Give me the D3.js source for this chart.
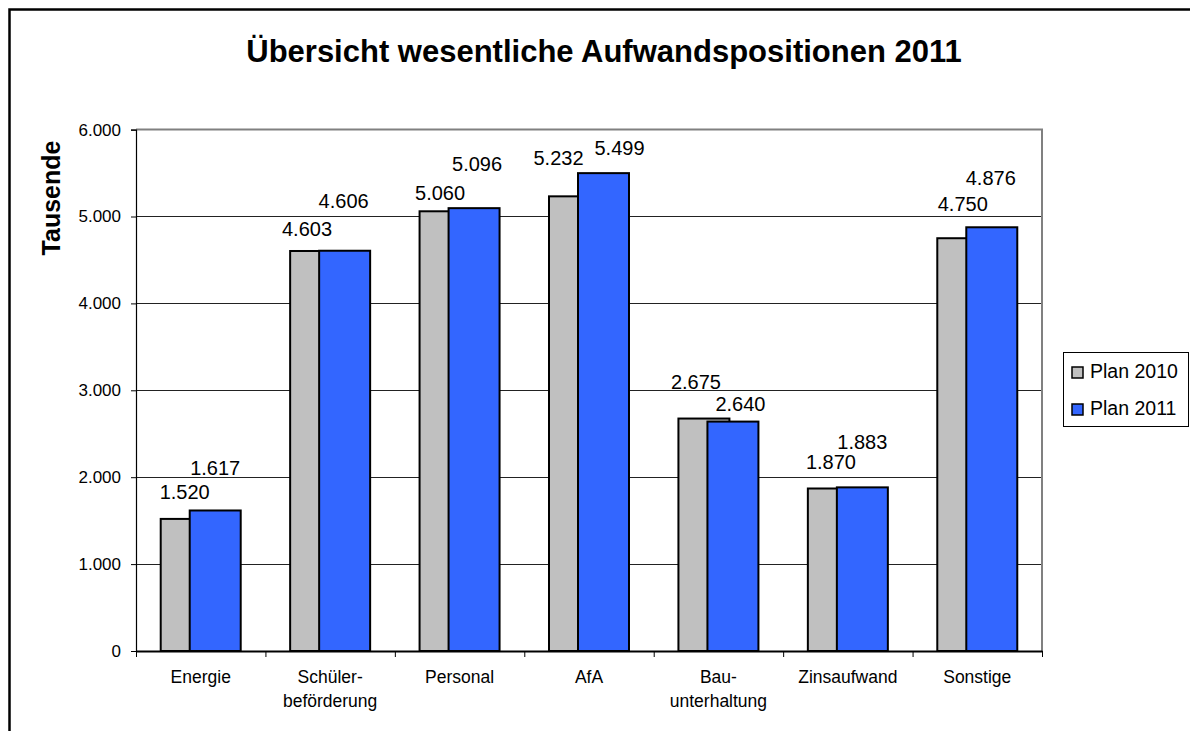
<!DOCTYPE html>
<html>
<head>
<meta charset="utf-8">
<script src="https://cdn.jsdelivr.net/npm/d3@7"></script>
<style>
  html, body { margin: 0; padding: 0; background: #fff; overflow: hidden; }
  svg { display: block; font-family: "Liberation Sans", Arial, sans-serif; }
</style>
</head>
<body>
<script>
// ---- data ----
const categories = ["Energie", "Schüler-\nbeförderung", "Personal", "AfA", "Bau-\nunterhaltung", "Zinsaufwand", "Sonstige"];
const seriesNames = ["Plan 2010", "Plan 2011"];
const plan2010 = [1520, 4603, 5060, 5232, 2675, 1870, 4750];
const plan2011 = [1617, 4606, 5096, 5499, 2640, 1883, 4876];
const yTickValues = [0, 1000, 2000, 3000, 4000, 5000, 6000];
const titleText = "Übersicht wesentliche Aufwandspositionen 2011";
const yAxisTitle = "Tausende";

// ---- layout (manual label placement as in the original) ----
const labelLift = [[20, 15, 11, 31, 30, 19.5, 27], [35, 43, 37.5, 18, 11, 38, 42]];
const labelShift = [[-1.5, -8.6, -5, -16, -8, -2.4, 0], [0, -1, 3, 16, 7.5, 0, -1]];
const colors = ["#C0C0C0", "#3366FF"];

const W = 1190, H = 731;
const plot = { left: 136, right: 1042, top: 129.6, bottom: 651 };

const de = d3.formatLocale({ decimal: ",", thousands: ".", grouping: [3], currency: ["", " €"] });
const fmt = de.format(",");

const svg = d3.select("body").append("svg").attr("width", W).attr("height", H);
svg.append("rect").attr("width", W).attr("height", H).attr("fill", "#fff");

// outer frame (clipped at right / bottom like the original)
svg.append("rect").attr("x", 9.5).attr("y", 9.5).attr("width", 1300).attr("height", 900)
  .attr("fill", "none").attr("stroke", "#000").attr("stroke-width", 2.5);

const x = d3.scaleBand().domain(categories).range([plot.left, plot.right]).paddingInner(0).paddingOuter(0);
const xs = d3.scaleBand().domain(seriesNames).range([-40, 18]);
const barW = x.bandwidth() * 0.394;
const y = d3.scaleLinear().domain([0, 6000]).range([plot.bottom, plot.top]);

// gridlines
svg.append("g").selectAll("line").data(yTickValues.filter(v => v > 0 && v < 6000)).join("line")
  .attr("x1", plot.left).attr("x2", plot.right)
  .attr("y1", d => Math.round(y(d)) + 0.5).attr("y2", d => Math.round(y(d)) + 0.5)
  .attr("stroke", "#222").attr("stroke-width", 1);

// plot area border (top & right, grey)
svg.append("path")
  .attr("d", `M${plot.left},${plot.top} H${plot.right} V${plot.bottom}`)
  .attr("fill", "none").attr("stroke", "#808080").attr("stroke-width", 2);

// bars
const series = [plan2010, plan2011];
series.forEach((vals, si) => {
  svg.append("g").selectAll("rect").data(vals).join("rect")
    .attr("x", (d, i) => x(categories[i]) + x.bandwidth() / 2 + xs(seriesNames[si]))
    .attr("y", d => y(d))
    .attr("width", barW)
    .attr("height", d => y(0) - y(d))
    .attr("fill", colors[si])
    .attr("stroke", "#000").attr("stroke-width", 2);
});

// y axis
const yAxis = svg.append("g").attr("transform", `translate(${plot.left},0)`)
  .call(d3.axisLeft(y).tickValues(yTickValues).tickFormat(fmt).tickSize(5).tickPadding(10));
yAxis.select(".domain").attr("stroke", "#000").attr("stroke-width", 1.2);
yAxis.selectAll(".tick line").attr("stroke", "#000");
yAxis.selectAll("text").attr("font-size", 17).attr("font-family", "Liberation Sans, Arial, sans-serif").attr("fill", "#000");

// x axis (ticks on category boundaries)
const xb = d3.scaleLinear().domain([0, categories.length]).range([plot.left, plot.right]);
const xAxis = svg.append("g").attr("transform", `translate(0,${plot.bottom})`)
  .call(d3.axisBottom(xb).tickValues(d3.range(categories.length + 1)).tickFormat("").tickSize(6).tickSizeOuter(0));
xAxis.select(".domain").attr("stroke", "#000").attr("stroke-width", 2);
xAxis.selectAll(".tick line").attr("stroke", "#000");

// category labels
const catG = svg.append("g");
categories.forEach(c => {
  const t = catG.append("text")
    .attr("x", x(c) + x.bandwidth() / 2)
    .attr("y", 683)
    .attr("text-anchor", "middle")
    .attr("font-size", 17.5)
    .attr("fill", "#000");
  c.split("\n").forEach((line, li) => {
    t.append("tspan").attr("x", x(c) + x.bandwidth() / 2).attr("dy", li === 0 ? 0 : 23.5).text(line);
  });
});

// data labels
series.forEach((vals, si) => {
  svg.append("g").selectAll("text").data(vals).join("text")
    .attr("x", (d, i) => x(categories[i]) + x.bandwidth() / 2 + xs(seriesNames[si]) + barW / 2 + labelShift[si][i])
    .attr("y", (d, i) => y(d) - labelLift[si][i])
    .attr("text-anchor", "middle")
    .attr("font-size", 20)
    .attr("fill", "#000")
    .text(d => fmt(d));
});

// title
svg.append("text")
  .attr("x", 604).attr("y", 62)
  .attr("text-anchor", "middle")
  .attr("font-size", 31).attr("font-weight", "bold")
  .attr("fill", "#000")
  .text(titleText);

// y axis title
svg.append("text")
  .attr("transform", `translate(60,198) rotate(-90)`)
  .attr("text-anchor", "middle")
  .attr("font-size", 25).attr("font-weight", "bold")
  .attr("fill", "#000")
  .text(yAxisTitle);

// legend
const lg = svg.append("g");
lg.append("rect").attr("x", 1063.5).attr("y", 352.5).attr("width", 125).attr("height", 74)
  .attr("fill", "#fff").attr("stroke", "#000").attr("stroke-width", 1);
seriesNames.forEach((s, i) => {
  const yy = 367 + i * 37;
  lg.append("rect").attr("x", 1072).attr("y", yy).attr("width", 11).attr("height", 11)
    .attr("fill", colors[i]).attr("stroke", "#000").attr("stroke-width", 1.5);
  lg.append("text").attr("x", 1090).attr("y", yy + 11)
    .attr("font-size", 19.5).attr("fill", "#000").text(s);
});
</script>
</body>
</html>
